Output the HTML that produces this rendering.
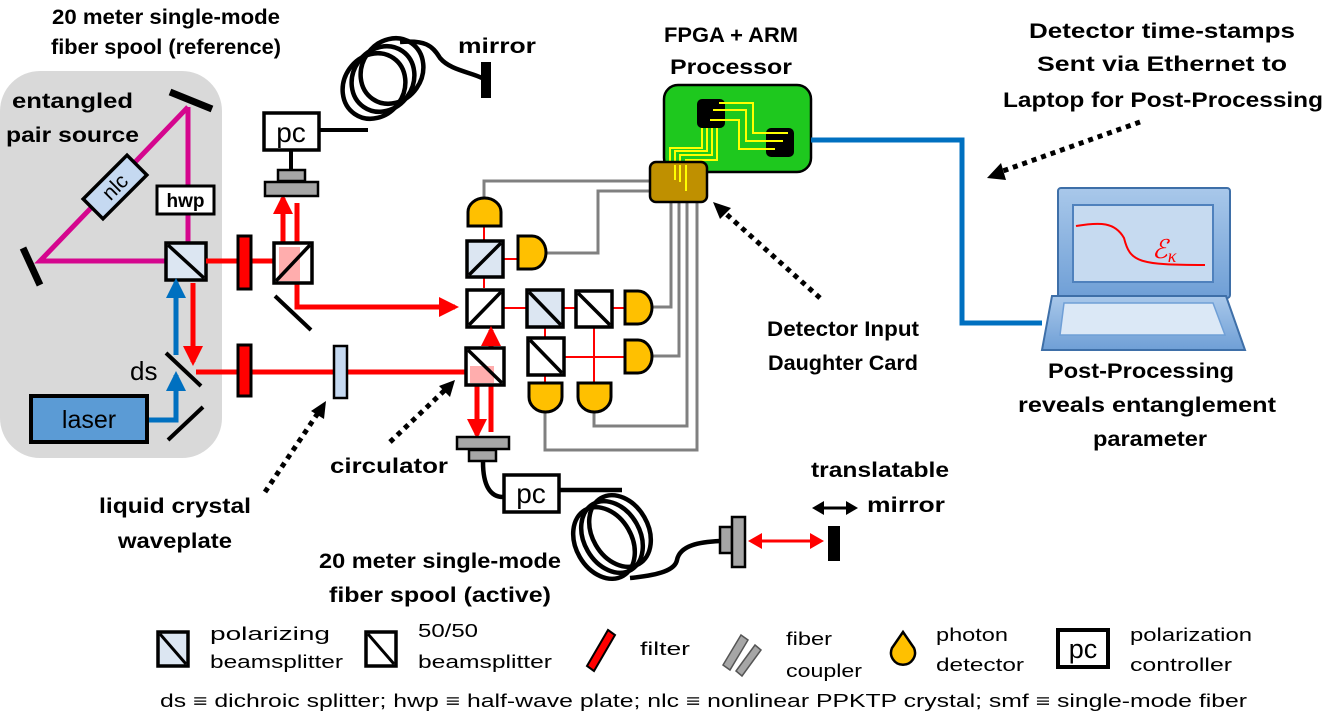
<!DOCTYPE html>
<html><head><meta charset="utf-8"><style>
html,body{margin:0;padding:0;background:#fff}
svg{display:block}
.b{font-family:"Liberation Sans",sans-serif;font-weight:bold;font-size:21px;fill:#000}
.r{font-family:"Liberation Sans",sans-serif;font-size:18px;fill:#000}
</style></head><body>
<svg width="1323" height="718" viewBox="0 0 1323 718" xmlns="http://www.w3.org/2000/svg">
<defs>
<marker id="ar" viewBox="0 0 10 10" refX="8" refY="5" markerWidth="4" markerHeight="4" orient="auto"><path d="M0,0L10,5L0,10z" fill="#f00"/></marker>
<marker id="ab" viewBox="0 0 10 10" refX="8" refY="5" markerWidth="4" markerHeight="4" orient="auto"><path d="M0,0L10,5L0,10z" fill="#0070c0"/></marker>
<linearGradient id="lg" x1="0" y1="0" x2="0" y2="1"><stop offset="0" stop-color="#a9c8ea"/><stop offset="1" stop-color="#6f9fd6"/></linearGradient>
</defs>
<rect x="0" y="71" width="222" height="387" rx="40" fill="#d9d9d9"/>
<text class="b" x="12" y="108" textLength="121" lengthAdjust="spacingAndGlyphs">entangled</text>
<text class="b" x="6" y="142" textLength="133" lengthAdjust="spacingAndGlyphs">pair source</text>
<path d="M188,107 L188,243 M166,261 L40,261 L188,107" stroke="#d5068e" stroke-width="5" fill="none"/>
<line x1="170" y1="92" x2="212" y2="109" stroke="#000" stroke-width="7"/>
<line x1="23" y1="248" x2="40" y2="285" stroke="#000" stroke-width="7"/>
<g transform="translate(115,187) rotate(-45)"><rect x="-31" y="-14" width="62" height="28" fill="#c5d9f1" stroke="#000" stroke-width="3.5"/><text x="0" y="7" text-anchor="middle" font-family="Liberation Sans,sans-serif" font-size="21" fill="#000">nlc</text></g>
<rect x="157" y="186" width="57" height="28" fill="#fff" stroke="#000" stroke-width="3"/>
<text x="185.5" y="207" text-anchor="middle" font-family="Liberation Sans,sans-serif" font-weight="bold" font-size="19">hwp</text>
<rect x="166" y="243" width="40" height="37" fill="#dce6f2" stroke="#000" stroke-width="3.5"/>
<line x1="168" y1="245" x2="204" y2="278" stroke="#000" stroke-width="3.5"/>
<line x1="206" y1="261" x2="275" y2="261" stroke="#f00" stroke-width="5"/>
<rect x="238" y="236" width="13" height="53" fill="#f00" stroke="#000" stroke-width="3"/>
<line x1="193" y1="283" x2="193" y2="362" stroke="#f00" stroke-width="5" marker-end="url(#ar)"/>
<line x1="176" y1="355" x2="176" y2="282" stroke="#0070c0" stroke-width="5" marker-end="url(#ab)"/>
<path d="M148,420 L176,420 L176,375" stroke="#0070c0" stroke-width="5" fill="none" marker-end="url(#ab)"/>
<line x1="166" y1="353" x2="201" y2="386" stroke="#000" stroke-width="4"/>
<line x1="168" y1="440" x2="203" y2="407" stroke="#000" stroke-width="4"/>
<text x="130" y="380" font-family="Liberation Sans,sans-serif" font-size="26">ds</text>
<rect x="31" y="396" width="116" height="46" fill="#5b9bd5" stroke="#000" stroke-width="4"/>
<text x="89" y="428" text-anchor="middle" font-family="Liberation Sans,sans-serif" font-size="25">laser</text>
<line x1="196" y1="372" x2="466" y2="372" stroke="#f00" stroke-width="5"/>
<rect x="238" y="345" width="13" height="51" fill="#f00" stroke="#000" stroke-width="3"/>
<rect x="334" y="346" width="13" height="52" fill="#c5d9f1" stroke="#000" stroke-width="2.5"/>
<line x1="283" y1="250" x2="283" y2="198" stroke="#f00" stroke-width="5" marker-end="url(#ar)"/>
<path d="M297,203 L297,307 L455,307" stroke="#f00" stroke-width="5" fill="none" marker-end="url(#ar)"/>
<rect x="274" y="243" width="38" height="40" fill="#fff" stroke="#000" stroke-width="3.5"/>
<rect x="279" y="247" width="21" height="34" fill="#f99" opacity="0.8"/>
<line x1="276" y1="281" x2="310" y2="245" stroke="#000" stroke-width="3.5"/>
<line x1="275" y1="296" x2="311" y2="330" stroke="#000" stroke-width="4"/>
<rect x="265" y="182" width="53" height="14" fill="#a6a6a6" stroke="#000" stroke-width="2.5"/>
<rect x="278" y="170" width="27" height="11" fill="#a6a6a6" stroke="#000" stroke-width="2.5"/>
<line x1="291" y1="150" x2="291" y2="170" stroke="#000" stroke-width="4"/>
<rect x="264" y="113" width="55" height="37" fill="#fff" stroke="#000" stroke-width="3.5"/>
<text x="291" y="142" text-anchor="middle" font-family="Liberation Sans,sans-serif" font-size="28">pc</text>
<path d="M319,130 L368,130" stroke="#000" stroke-width="4"/>
<g fill="none" stroke="#000" stroke-width="4.5">
<ellipse cx="374" cy="86" rx="30" ry="34" transform="rotate(35 374 86)"/>
<ellipse cx="383" cy="79" rx="30" ry="34" transform="rotate(35 383 79)"/>
<ellipse cx="392" cy="71" rx="30" ry="34" transform="rotate(35 392 71)"/>
<path d="M400,42 C425,40 432,45 440,58 C450,70 470,72 482,78"/>
</g>
<rect x="481" y="62" width="10" height="36" fill="#000"/>
<text class="b" x="458" y="53" textLength="78" lengthAdjust="spacingAndGlyphs">mirror</text>
<text class="b" x="166" y="24" text-anchor="middle" textLength="228" lengthAdjust="spacingAndGlyphs">20 meter single-mode</text>
<text class="b" x="166" y="54" text-anchor="middle" textLength="230" lengthAdjust="spacingAndGlyphs">fiber spool (reference)</text>
<g fill="none" stroke="#808080" stroke-width="3">
<path d="M484,198 L484,181 L650,181"/>
<path d="M546,253 L598,253 L598,191 L650,191"/>
<path d="M652,307 L671,307 L671,202"/>
<path d="M652,356 L679,356 L679,202"/>
<path d="M594,412 L594,426 L687,426 L687,202"/>
<path d="M545,412 L545,450 L697,450 L697,202"/>
</g>
<g stroke="#f00" stroke-width="2" fill="none">
<line x1="484" y1="226" x2="484" y2="288"/><line x1="503" y1="259" x2="518" y2="259"/>
<line x1="503" y1="308" x2="625" y2="308"/><line x1="545" y1="328" x2="545" y2="383"/>
<line x1="564" y1="357" x2="625" y2="357"/><line x1="594" y1="327" x2="594" y2="383"/>
</g>
<g fill="#ffc000" stroke="#000" stroke-width="3">
<path d="M468,226 L468,212 A16.5,14 0 0 1 501,212 L501,226 Z"/>
<path d="M518,236 L532,236 A14,16.5 0 0 1 532,269 L518,269 Z"/>
<path d="M625,291 L638,291 A14,16.5 0 0 1 638,324 L625,324 Z"/>
<path d="M625,340 L638,340 A14,16.5 0 0 1 638,373 L625,373 Z"/>
<path d="M529,383 L562,383 L562,397 A16.5,15 0 0 1 529,397 Z"/>
<path d="M578,383 L611,383 L611,397 A16.5,15 0 0 1 578,397 Z"/>
</g>
<g stroke="#000" stroke-width="3.5">
<rect x="467" y="241" width="36" height="36" fill="#dce6f2"/><line x1="469" y1="275" x2="501" y2="243"/>
<rect x="467" y="290" width="36" height="37" fill="#fff"/><line x1="469" y1="325" x2="501" y2="292"/>
<rect x="527" y="290" width="36" height="37" fill="#dce6f2"/><line x1="529" y1="292" x2="561" y2="325"/>
<rect x="576" y="291" width="36" height="36" fill="#fff"/><line x1="578" y1="293" x2="610" y2="325"/>
<rect x="528" y="338" width="36" height="37" fill="#fff"/><line x1="530" y1="340" x2="562" y2="373"/>
</g>
<line x1="491" y1="432" x2="491" y2="330" stroke="#f00" stroke-width="5" marker-end="url(#ar)"/>
<line x1="477" y1="372" x2="477" y2="435" stroke="#f00" stroke-width="5" marker-end="url(#ar)"/>
<rect x="466" y="348" width="38" height="37" fill="#fff" stroke="#000" stroke-width="3.5"/>
<rect x="470" y="366" width="24" height="17" fill="#f99" opacity="0.8"/>
<line x1="468" y1="350" x2="502" y2="383" stroke="#000" stroke-width="3.5"/>
<rect x="457" y="437" width="52" height="12" fill="#a6a6a6" stroke="#000" stroke-width="2.5"/>
<rect x="469" y="450" width="27" height="11" fill="#a6a6a6" stroke="#000" stroke-width="2.5"/>
<path d="M483,462 C483,485 490,497 503,497" fill="none" stroke="#000" stroke-width="4.5"/>
<rect x="504" y="475" width="55" height="37" fill="#fff" stroke="#000" stroke-width="3.5"/>
<text x="531" y="503" text-anchor="middle" font-family="Liberation Sans,sans-serif" font-size="28">pc</text>
<g fill="none" stroke="#000" stroke-width="4.5">
<line x1="559" y1="490" x2="622" y2="490"/>
<ellipse cx="604" cy="543" rx="28" ry="38" transform="rotate(-30 604 543)"/>
<ellipse cx="612" cy="537" rx="28" ry="38" transform="rotate(-30 612 537)"/>
<ellipse cx="620" cy="531" rx="28" ry="38" transform="rotate(-30 620 531)"/>
<path d="M630,578 C660,575 675,570 677,560 C680,545 700,542 720,541"/>
</g>
<rect x="720" y="527" width="12" height="26" fill="#a6a6a6" stroke="#000" stroke-width="2.5"/>
<rect x="732" y="517" width="13" height="50" fill="#a6a6a6" stroke="#000" stroke-width="2.5"/>
<line x1="760" y1="541" x2="812" y2="541" stroke="#f00" stroke-width="3"/>
<path d="M748,541 L762,533 L762,549Z M824,541 L810,533 L810,549Z" fill="#f00"/>
<rect x="828" y="526" width="12" height="35" fill="#000"/>
<line x1="820" y1="508" x2="850" y2="508" stroke="#000" stroke-width="3"/>
<path d="M812,508 L824,501 L824,515Z M858,508 L846,501 L846,515Z" fill="#000"/>
<rect x="664" y="85" width="147" height="87" rx="14" fill="#1ec81e" stroke="#000" stroke-width="2.5"/>
<rect x="697" y="99" width="28" height="29" rx="5" fill="#000"/>
<rect x="766" y="128" width="28" height="29" rx="5" fill="#000"/>
<g fill="none" stroke="#ff0" stroke-width="2">
<path d="M719,103 L753,103 L753,133 L788,133"/>
<path d="M713,110 L746,110 L746,141 L783,141"/>
<path d="M710,120 L739,120 L739,149 L775,149"/>
<path d="M702,128 L702,148 L670,148 L670,170"/>
<path d="M707,128 L707,151 L675,151 L675,180"/>
<path d="M712,128 L712,155 L680,155 L680,182"/>
<path d="M717,128 L717,160 L686,160 L686,191"/>
</g>
<rect x="650" y="162" width="57" height="40" rx="6" fill="#bf9000" stroke="#000" stroke-width="2.5"/>
<g fill="none" stroke="#ff0" stroke-width="2"><path d="M675,165 L675,180 M680,165 L680,182 M686,165 L686,191"/></g>
<text class="b" x="731" y="42" text-anchor="middle" textLength="134" lengthAdjust="spacingAndGlyphs">FPGA + ARM</text>
<text class="b" x="731" y="74" text-anchor="middle" textLength="122" lengthAdjust="spacingAndGlyphs">Processor</text>
<path d="M811,140 L962,140 L962,323 L1042,323" fill="none" stroke="#0070c0" stroke-width="5"/>
<rect x="1058" y="188" width="172" height="110" rx="3" fill="url(#lg)" stroke="#3e6fa8" stroke-width="2"/>
<rect x="1073" y="205" width="140" height="77" fill="#c6daf0" stroke="#4f81bd" stroke-width="2"/>
<path d="M1076,226 C1100,222 1115,222 1124,238 C1130,262 1138,265 1205,265" fill="none" stroke="#f00" stroke-width="2"/>
<text x="1152" y="258" font-family="Liberation Serif,serif" font-style="italic" font-size="26" fill="#f00">ℰ<tspan font-size="18" dy="4">κ</tspan></text>
<path d="M1052,296 L1226,296 L1245,350 L1042,350 Z" fill="url(#lg)" stroke="#3e6fa8" stroke-width="2"/>
<path d="M1064,303 L1213,303 L1225,335 L1060,335 Z" fill="#dbe8f6" stroke="#6f9fd6" stroke-width="1.5"/>
<g stroke="#000" stroke-width="5" stroke-dasharray="5,5" fill="none">
<line x1="1140" y1="122" x2="1000" y2="172"/>
<line x1="820" y1="298" x2="724" y2="212"/>
<line x1="390" y1="442" x2="446" y2="389"/>
<line x1="265" y1="492" x2="318" y2="413"/>
</g>
<path d="M987,178 L1001,163 L1006,180Z" fill="#000"/>
<path d="M713,202 L731,208 L720,219Z" fill="#000"/>
<path d="M455,380 L450,397 L439,386Z" fill="#000"/>
<path d="M326,401 L324,419 L311,411Z" fill="#000"/>
<text class="b" x="1162" y="38" text-anchor="middle" textLength="266" lengthAdjust="spacingAndGlyphs">Detector time-stamps</text>
<text class="b" x="1162" y="71" text-anchor="middle" textLength="250" lengthAdjust="spacingAndGlyphs">Sent via Ethernet to</text>
<text class="b" x="1163" y="107" text-anchor="middle" textLength="320" lengthAdjust="spacingAndGlyphs">Laptop for Post-Processing</text>
<text class="b" x="843" y="336" text-anchor="middle" textLength="152" lengthAdjust="spacingAndGlyphs">Detector Input</text>
<text class="b" x="843" y="370" text-anchor="middle" textLength="150" lengthAdjust="spacingAndGlyphs">Daughter Card</text>
<text class="b" x="1141" y="378" text-anchor="middle" textLength="186" lengthAdjust="spacingAndGlyphs">Post-Processing</text>
<text class="b" x="1147" y="412" text-anchor="middle" textLength="258" lengthAdjust="spacingAndGlyphs">reveals entanglement</text>
<text class="b" x="1150" y="446" text-anchor="middle" textLength="114" lengthAdjust="spacingAndGlyphs">parameter</text>
<text class="b" x="330" y="473" textLength="118" lengthAdjust="spacingAndGlyphs">circulator</text>
<text class="b" x="880" y="477" text-anchor="middle" textLength="138" lengthAdjust="spacingAndGlyphs">translatable</text>
<text class="b" x="906" y="512" text-anchor="middle" textLength="78" lengthAdjust="spacingAndGlyphs">mirror</text>
<text class="b" x="175" y="513" text-anchor="middle" textLength="152" lengthAdjust="spacingAndGlyphs">liquid crystal</text>
<text class="b" x="175" y="548" text-anchor="middle" textLength="114" lengthAdjust="spacingAndGlyphs">waveplate</text>
<text class="b" x="440" y="568" text-anchor="middle" textLength="242" lengthAdjust="spacingAndGlyphs">20 meter  single-mode</text>
<text class="b" x="440" y="602" text-anchor="middle" textLength="222" lengthAdjust="spacingAndGlyphs">fiber spool (active)</text>
<rect x="158" y="632" width="30" height="34" fill="#dce6f2" stroke="#000" stroke-width="3.5"/><line x1="160" y1="634" x2="186" y2="664" stroke="#000" stroke-width="3"/>
<text class="r" x="210" y="640" textLength="120" lengthAdjust="spacingAndGlyphs">polarizing</text>
<text class="r" x="210" y="668" textLength="133" lengthAdjust="spacingAndGlyphs">beamsplitter</text>
<rect x="366" y="632" width="30" height="34" fill="#fff" stroke="#000" stroke-width="3.5"/><line x1="368" y1="634" x2="394" y2="664" stroke="#000" stroke-width="3"/>
<text class="r" x="418" y="637" textLength="60" lengthAdjust="spacingAndGlyphs">50/50</text>
<text class="r" x="418" y="668" textLength="134" lengthAdjust="spacingAndGlyphs">beamsplitter</text>
<path d="M608,630 L615,635 L594,671 L587,666 Z" fill="#f00" stroke="#000" stroke-width="2"/>
<text class="r" x="640" y="655" textLength="50" lengthAdjust="spacingAndGlyphs">filter</text>
<path d="M741,635 L748,640 L730,670 L723,665 Z M755,645 L761,650 L742,676 L736,671 Z" fill="#a6a6a6" stroke="#555" stroke-width="1.5"/>
<text class="r" x="786" y="645" textLength="46" lengthAdjust="spacingAndGlyphs">fiber</text>
<text class="r" x="786" y="677" textLength="76" lengthAdjust="spacingAndGlyphs">coupler</text>
<path d="M903,632 L914,648 A12,12 0 1 1 892,648 Z" fill="#ffc000" stroke="#000" stroke-width="2.5"/>
<text class="r" x="936" y="641" textLength="72" lengthAdjust="spacingAndGlyphs">photon</text>
<text class="r" x="936" y="671" textLength="88" lengthAdjust="spacingAndGlyphs">detector</text>
<rect x="1058" y="630" width="50" height="37" fill="#fff" stroke="#000" stroke-width="4"/>
<text x="1083" y="658" text-anchor="middle" font-family="Liberation Sans,sans-serif" font-size="27">pc</text>
<text class="r" x="1130" y="641" textLength="122" lengthAdjust="spacingAndGlyphs">polarization</text>
<text class="r" x="1130" y="671" textLength="102" lengthAdjust="spacingAndGlyphs">controller</text>
<text class="r" x="160" y="707" textLength="1087" lengthAdjust="spacingAndGlyphs">ds ≡ dichroic splitter; hwp ≡ half-wave plate; nlc ≡ nonlinear PPKTP crystal; smf ≡ single-mode fiber</text>
</svg>
</body></html>
